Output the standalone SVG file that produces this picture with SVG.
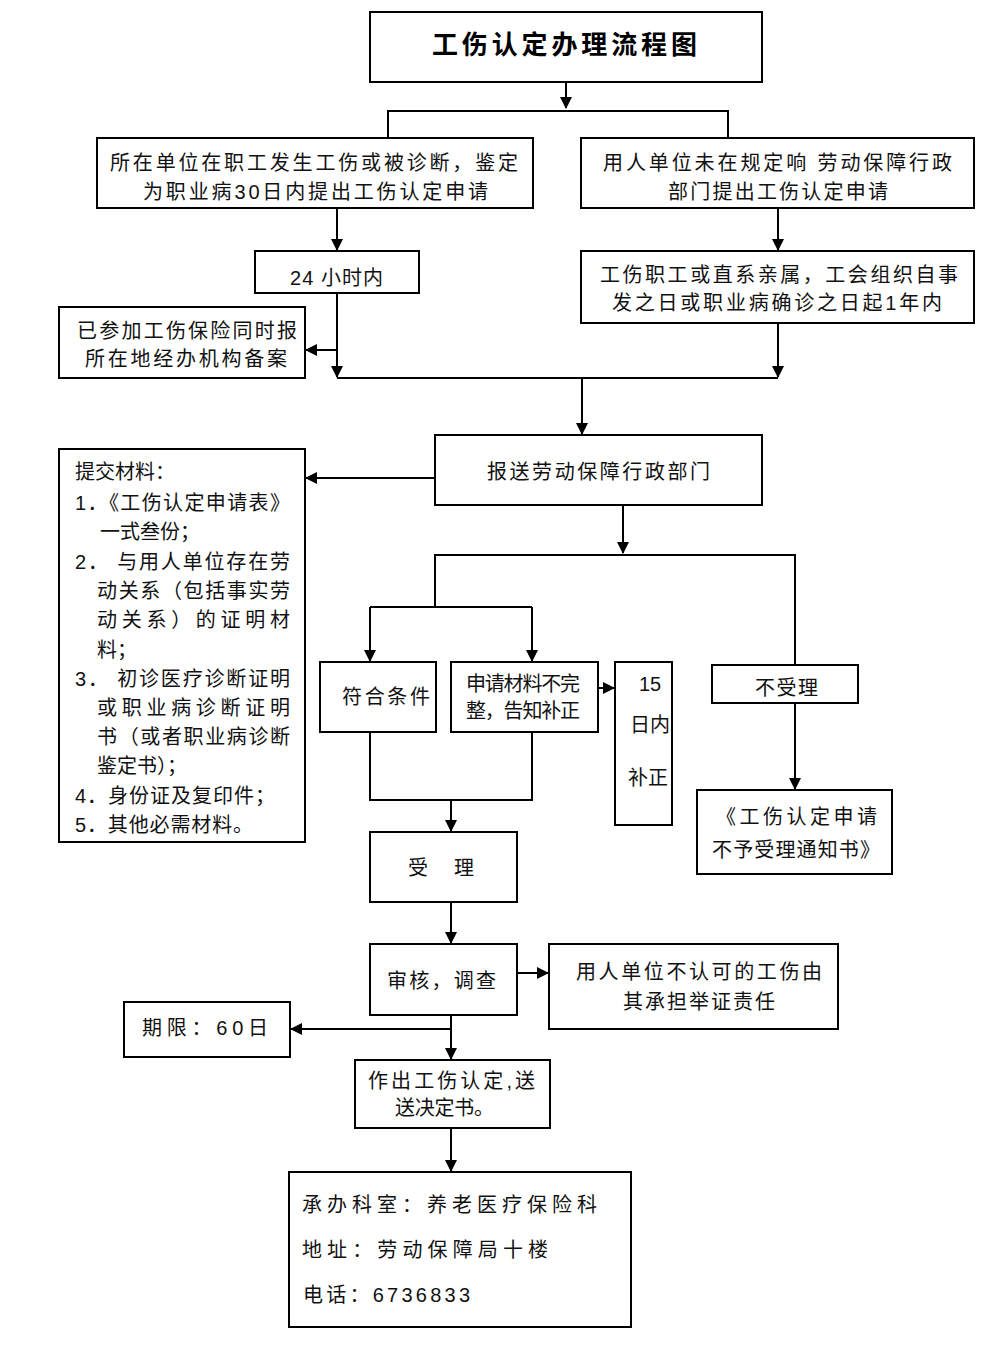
<svg xmlns="http://www.w3.org/2000/svg" width="1000" height="1351" viewBox="0 0 1000 1351">
<style>
.box{fill:#fff;stroke:#000;stroke-width:2}
.t{font-family:"Liberation Sans","Noto Sans CJK SC",sans-serif;font-size:20px;fill:#111}
.title{font-family:"Liberation Sans","Noto Sans CJK SC",sans-serif;font-size:26px;font-weight:bold;fill:#000}
.c{fill:none;stroke:#000;stroke-width:2}
</style>
<defs>
<marker id="ah" markerUnits="userSpaceOnUse" markerWidth="12" markerHeight="12" refX="11" refY="6" orient="auto">
<path d="M0,0 L12,6 L0,12 z" fill="#000"/>
</marker>
</defs>
<rect width="1000" height="1351" fill="#fff"/>

<g id="connectors">
<line class="c" x1="566" y1="82" x2="566" y2="108" marker-end="url(#ah)"/>
<polyline class="c" points="388,138 388,111 728,111 728,138"/>
<line class="c" x1="337" y1="208" x2="337" y2="250" marker-end="url(#ah)"/>
<line class="c" x1="778" y1="208" x2="778" y2="250" marker-end="url(#ah)"/>
<line class="c" x1="337" y1="293" x2="337" y2="377" marker-end="url(#ah)"/>
<line class="c" x1="337" y1="350" x2="306" y2="350" marker-end="url(#ah)"/>
<line class="c" x1="778" y1="323" x2="778" y2="377" marker-end="url(#ah)"/>
<line class="c" x1="337" y1="378" x2="778" y2="378"/>
<line class="c" x1="582" y1="378" x2="582" y2="434" marker-end="url(#ah)"/>
<line class="c" x1="435" y1="478" x2="306" y2="478" marker-end="url(#ah)"/>
<line class="c" x1="623" y1="505" x2="623" y2="553" marker-end="url(#ah)"/>
<polyline class="c" points="435,607 435,555 795,555 795,664"/>
<line class="c" x1="370" y1="607" x2="532" y2="607"/>
<line class="c" x1="370" y1="607" x2="370" y2="661" marker-end="url(#ah)"/>
<line class="c" x1="532" y1="607" x2="532" y2="661" marker-end="url(#ah)"/>
<line class="c" x1="598" y1="688" x2="614" y2="688" marker-end="url(#ah)"/>
<line class="c" x1="795" y1="703" x2="795" y2="789" marker-end="url(#ah)"/>
<polyline class="c" points="370,732 370,800 532,800 532,732"/>
<line class="c" x1="451" y1="800" x2="451" y2="831" marker-end="url(#ah)"/>
<line class="c" x1="451" y1="902" x2="451" y2="943" marker-end="url(#ah)"/>
<line class="c" x1="517" y1="973" x2="548" y2="973" marker-end="url(#ah)"/>
<line class="c" x1="451" y1="1015" x2="451" y2="1059" marker-end="url(#ah)"/>
<line class="c" x1="451" y1="1029" x2="291" y2="1029" marker-end="url(#ah)"/>
<line class="c" x1="451" y1="1128" x2="451" y2="1171" marker-end="url(#ah)"/>
</g>

<g id="n-title">
<rect class="box" x="370" y="12" width="392" height="70"/>
<text class="title" x="432" y="54" textLength="265" lengthAdjust="spacing">工伤认定办理流程图</text>
</g>
<g id="n-left1">
<rect class="box" x="97" y="138" width="436" height="70"/>
<text class="t" x="110" y="170" textLength="408" lengthAdjust="spacing">所在单位在职工发生工伤或被诊断，鉴定</text>
<text class="t" x="143" y="199" textLength="345" lengthAdjust="spacing">为职业病30日内提出工伤认定申请</text>
</g>
<g id="n-right1">
<rect class="box" x="581" y="138" width="393" height="70"/>
<text class="t" x="603" y="170" textLength="349" lengthAdjust="spacing">用人单位未在规定响 劳动保障行政</text>
<text class="t" x="668" y="199" textLength="220" lengthAdjust="spacing">部门提出工伤认定申请</text>
</g>
<g id="n-24h">
<rect class="box" x="255" y="251" width="164" height="42"/>
<text class="t" x="290" y="285" textLength="93" lengthAdjust="spacing">24 小时内</text>
</g>
<g id="n-right2">
<rect class="box" x="581" y="251" width="393" height="72"/>
<text class="t" x="600" y="282" textLength="358" lengthAdjust="spacing">工伤职工或直系亲属，工会组织自事</text>
<text class="t" x="612" y="310" textLength="330" lengthAdjust="spacing">发之日或职业病确诊之日起1年内</text>
</g>
<g id="n-record">
<rect class="box" x="59" y="307" width="246" height="71"/>
<text class="t" x="77" y="338" textLength="220" lengthAdjust="spacing">已参加工伤保险同时报</text>
<text class="t" x="85" y="366" textLength="202" lengthAdjust="spacing">所在地经办机构备案</text>
</g>
<g id="n-submit">
<rect class="box" x="435" y="435" width="327" height="70"/>
<text class="t" x="487" y="479" textLength="223" lengthAdjust="spacing">报送劳动保障行政部门</text>
</g>
<g id="n-materials">
<rect class="box" x="59" y="449" width="246" height="393"/>
<text class="t" x="75" y="479">提交材料：</text>
<text class="t" x="75" y="510" textLength="215" lengthAdjust="spacing">1．《工伤认定申请表》</text>
<text class="t" x="100" y="539">一式叁份；</text>
<text class="t" x="75" y="569" textLength="215" lengthAdjust="spacing">2． 与用人单位存在劳</text>
<text class="t" x="97" y="598" textLength="193" lengthAdjust="spacing">动关系（包括事实劳</text>
<text class="t" x="97" y="627" textLength="193" lengthAdjust="spacing">动关系）的证明材</text>
<text class="t" x="97" y="657">料；</text>
<text class="t" x="75" y="686" textLength="215" lengthAdjust="spacing">3． 初诊医疗诊断证明</text>
<text class="t" x="97" y="715" textLength="193" lengthAdjust="spacing">或职业病诊断证明</text>
<text class="t" x="97" y="744" textLength="193" lengthAdjust="spacing">书（或者职业病诊断</text>
<text class="t" x="97" y="773">鉴定书）；</text>
<text class="t" x="75" y="803" textLength="200" lengthAdjust="spacing">4．身份证及复印件；</text>
<text class="t" x="75" y="832" textLength="178" lengthAdjust="spacing">5．其他必需材料。</text>
</g>
<g id="n-ok">
<rect class="box" x="320" y="662" width="116" height="70"/>
<text class="t" x="342" y="704" textLength="88" lengthAdjust="spacing">符合条件</text>
</g>
<g id="n-incomplete">
<rect class="box" x="451" y="662" width="147" height="70"/>
<text class="t" x="466" y="691" textLength="114" lengthAdjust="spacing">申请材料不完</text>
<text class="t" x="466" y="718" textLength="114" lengthAdjust="spacing">整，告知补正</text>
</g>
<g id="n-15days">
<rect class="box" x="615" y="662" width="57" height="163"/>
<text class="t" x="639" y="691">15</text>
<text class="t" x="630" y="732">日内</text>
<text class="t" x="628" y="785">补正</text>
</g>
<g id="n-reject">
<rect class="box" x="712" y="665" width="146" height="38"/>
<text class="t" x="755" y="695" textLength="63" lengthAdjust="spacing">不受理</text>
</g>
<g id="n-notice">
<rect class="box" x="697" y="790" width="195" height="84"/>
<text class="t" x="716" y="824" textLength="161" lengthAdjust="spacing">《工伤认定申请</text>
<text class="t" x="712" y="857" textLength="168" lengthAdjust="spacing">不予受理通知书》</text>
</g>
<g id="n-accept">
<rect class="box" x="370" y="832" width="147" height="70"/>
<text class="t" x="408" y="875" textLength="66" lengthAdjust="spacing">受　理</text>
</g>
<g id="n-review">
<rect class="box" x="370" y="944" width="147" height="71"/>
<text class="t" x="387" y="988" textLength="109" lengthAdjust="spacing">审核，调查</text>
</g>
<g id="n-burden">
<rect class="box" x="549" y="944" width="289" height="85"/>
<text class="t" x="576" y="979" textLength="246" lengthAdjust="spacing">用人单位不认可的工伤由</text>
<text class="t" x="623" y="1009" textLength="152" lengthAdjust="spacing">其承担举证责任</text>
</g>
<g id="n-limit">
<rect class="box" x="124" y="1002" width="166" height="55"/>
<text class="t" x="142" y="1035" textLength="126" lengthAdjust="spacing">期限：60日</text>
</g>
<g id="n-decision">
<rect class="box" x="355" y="1060" width="195" height="68"/>
<text class="t" x="368" y="1088" textLength="167" lengthAdjust="spacing">作出工伤认定,送</text>
<text class="t" x="395" y="1115" textLength="99" lengthAdjust="spacing">送决定书。</text>
</g>
<g id="n-contact">
<rect class="box" x="289" y="1172" width="342" height="155"/>
<text class="t" x="302" y="1212" textLength="295" lengthAdjust="spacing">承办科室：养老医疗保险科</text>
<text class="t" x="302" y="1257" textLength="246" lengthAdjust="spacing">地址：劳动保障局十楼</text>
<text class="t" x="303" y="1302" textLength="167" lengthAdjust="spacing">电话：6736833</text>
</g>
</svg>
